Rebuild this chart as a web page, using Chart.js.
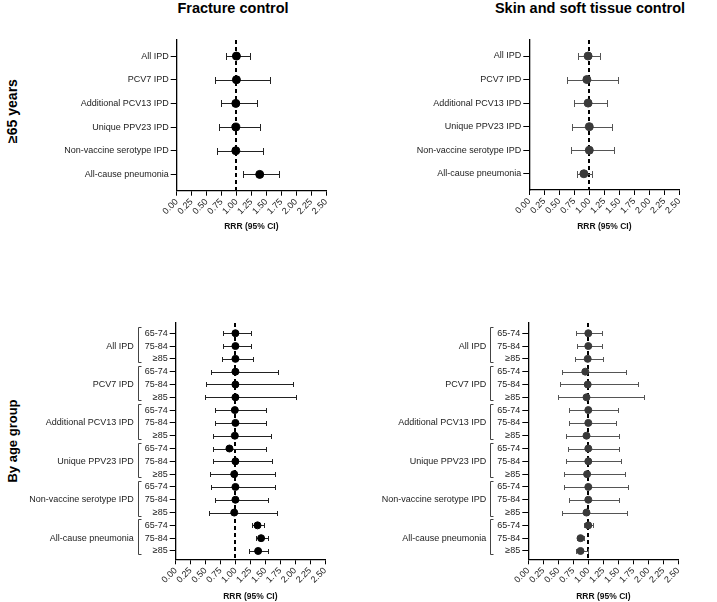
<!DOCTYPE html>
<html>
<head>
<meta charset="utf-8">
<script src="https://cdn.jsdelivr.net/npm/chart.js@4.4.1/dist/chart.umd.min.js"></script>
<style>
  body { margin:0; background:#fff; width:717px; height:602px; position:relative; overflow:hidden; font-family:'Liberation Sans', Arial, sans-serif; }
  canvas { position:absolute; }
  .ttl { position:absolute; top:0; font-weight:bold; font-size:14.5px; white-space:nowrap; transform:translateX(-50%); color:#000; }
  .side { position:absolute; font-weight:bold; font-size:13px; white-space:nowrap; transform:translate(-50%,-50%) rotate(-90deg); color:#000; }
</style>
</head>
<body>
<div class="ttl" style="left:233px">Fracture control</div>
<div class="ttl" style="left:590px">Skin and soft tissue control</div>
<div class="side" style="left:12px;top:111px;font-size:14px">≥65 years</div>
<div class="side" style="left:12px;top:441px">By age group</div>

<canvas id="tl" width="358" height="240" style="left:0;top:0"></canvas>
<canvas id="tr" width="359" height="240" style="left:358px;top:0"></canvas>
<canvas id="bl" width="358" height="362" style="left:0;top:240px"></canvas>
<canvas id="br" width="359" height="362" style="left:358px;top:240px"></canvas>

<script>
// categories
const outcomes = ['All IPD', 'PCV7 IPD', 'Additional PCV13 IPD', 'Unique PPV23 IPD', 'Non-vaccine serotype IPD', 'All-cause pneumonia']
const ageGroups = ['65-74', '75-84', '≥85']
const xTicks = [0, 0.25, 0.5, 0.75, 1, 1.25, 1.5, 1.75, 2, 2.25, 2.5]

// >=65 years, fracture control
const fracRRR = [1.00, 1.00, 0.99, 0.99, 0.99, 1.39]
const fracLo  = [0.82, 0.64, 0.74, 0.70, 0.68, 1.11]
const fracHi  = [1.22, 1.57, 1.35, 1.40, 1.44, 1.72]

// >=65 years, skin and soft tissue control
const skinRRR = [0.98, 0.96, 0.98, 1.00, 1.00, 0.91]
const skinLo  = [0.81, 0.63, 0.74, 0.71, 0.69, 0.79]
const skinHi  = [1.18, 1.47, 1.30, 1.37, 1.41, 1.05]

// by age group (3 rows per outcome), fracture control
const fracAgeRRR = [1.00, 1.00, 1.00,  1.00, 1.00, 1.00,  0.99, 1.00, 0.99,  0.90, 1.00, 0.98,  1.00, 1.00, 0.98,  1.37, 1.43, 1.38]
const fracAgeLo  = [0.79, 0.79, 0.77,  0.59, 0.51, 0.49,  0.65, 0.66, 0.62,  0.63, 0.63, 0.58,  0.59, 0.66, 0.55,  1.27, 1.34, 1.23]
const fracAgeHi  = [1.26, 1.26, 1.30,  1.72, 1.97, 2.02,  1.52, 1.52, 1.59,  1.52, 1.61, 1.67,  1.67, 1.54, 1.70,  1.48, 1.54, 1.54]

// by age group, skin and soft tissue control
const skinAgeRRR = [1.00, 1.00, 0.99,  0.95, 0.99, 0.97,  1.00, 1.00, 0.97,  1.00, 1.00, 0.98,  1.00, 1.00, 0.97,  1.00, 0.87, 0.87]
const skinAgeLo  = [0.79, 0.81, 0.77,  0.56, 0.53, 0.49,  0.67, 0.68, 0.62,  0.66, 0.63, 0.60,  0.60, 0.67, 0.56,  0.93, 0.81, 0.79]
const skinAgeHi  = [1.23, 1.22, 1.24,  1.63, 1.82, 1.93,  1.49, 1.46, 1.51,  1.51, 1.54, 1.61,  1.66, 1.51, 1.64,  1.07, 0.93, 0.99]

const ageRowLabels = outcomes.flatMap(() => ageGroups)

Chart.defaults.font.family = "'Liberation Sans', Arial, sans-serif"

// reference line, CI whiskers and group brackets
const forestPlugin = {
  id: 'forest',
  beforeDatasetsDraw(chart) {
    const {ctx, chartArea, scales: {x, y}} = chart
    const o = chart.options.plugins.forest
    ctx.save()
    const x1 = Math.round(x.getPixelForValue(1))
    ctx.strokeStyle = '#000'
    ctx.lineWidth = 2
    ctx.setLineDash([4, 3])
    ctx.beginPath()
    ctx.moveTo(x1, chartArea.top)
    ctx.lineTo(x1, chartArea.bottom)
    ctx.stroke()
    ctx.setLineDash([])
    ctx.strokeStyle = o.barColor
    ctx.lineWidth = 1
    o.lo.forEach((lo, i) => {
      const yy = Math.round(y.getPixelForValue(i)) + 0.5
      const xa = Math.round(x.getPixelForValue(lo)) + 0.5
      const xb = Math.round(x.getPixelForValue(o.hi[i])) + 0.5
      ctx.beginPath()
      ctx.moveTo(xa, yy); ctx.lineTo(xb, yy)
      ctx.moveTo(xa, yy - o.cap); ctx.lineTo(xa, yy + o.cap)
      ctx.moveTo(xb, yy - o.cap); ctx.lineTo(xb, yy + o.cap)
      ctx.stroke()
    })
    ctx.restore()
  },
  afterDraw(chart) {
    const o = chart.options.plugins.forest
    if (!o.groups) return
    const {ctx, chartArea, scales: {y}} = chart
    ctx.save()
    ctx.strokeStyle = '#444'
    ctx.lineWidth = 1
    ctx.fillStyle = '#222'
    ctx.font = "9px 'Liberation Sans', Arial, sans-serif"
    ctx.textAlign = 'right'
    ctx.textBaseline = 'middle'
    const bx = Math.round(chartArea.left - 38) + 0.5
    o.groups.forEach((g, k) => {
      const top = Math.round(y.getPixelForValue(k * 3)) - 6
      const bot = Math.round(y.getPixelForValue(k * 3 + 2)) + 3
      ctx.beginPath()
      ctx.moveTo(bx + 3, top + 0.5); ctx.lineTo(bx, top + 0.5)
      ctx.lineTo(bx, bot + 0.5); ctx.lineTo(bx + 3, bot + 0.5)
      ctx.stroke()
      ctx.fillText(g, chartArea.left - 42, y.getPixelForValue(k * 3 + 1))
    })
    ctx.restore()
  }
}

const forest = (id, labels, rrr, lo, hi, cfg) => {
  new Chart(document.getElementById(id), {
    type: 'scatter',
    data: {
      datasets: [{
        data: rrr.map((v, i) => ({x: v, y: i})),
        backgroundColor: cfg.dot,
        borderColor: cfg.dot,
        pointRadius: cfg.r,
        pointHoverRadius: cfg.r
      }]
    },
    options: {
      responsive: false,
      animation: false,
      devicePixelRatio: 1,
      layout: {padding: cfg.pad},
      plugins: {
        legend: {display: false},
        tooltip: {enabled: false},
        forest: {lo: lo, hi: hi, barColor: cfg.bar, cap: cfg.cap, groups: cfg.groups}
      },
      scales: {
        x: {
          type: 'linear', min: 0, max: 2.5,
          afterBuildTicks: s => { s.ticks = xTicks.map(v => ({value: v})) },
          afterFit: s => { s.height = cfg.xh },
          ticks: {autoSkip: false, minRotation: 45, maxRotation: 45, padding: 1, color: '#222', font: {size: 9},
                  callback: v => v.toFixed(2)},
          grid: {drawOnChartArea: false, drawTicks: true, tickLength: 5, color: '#000'},
          border: {color: '#000', width: 1.3},
          title: {display: true, text: 'RRR (95% CI)', color: '#111', font: {size: 8.5, weight: 'bold'},
                  padding: {top: 0, bottom: cfg.tpb}}
        },
        y: {
          type: 'linear', reverse: true, min: cfg.ymin, max: cfg.ymax,
          afterBuildTicks: s => { s.ticks = labels.map((_, i) => ({value: i})) },
          afterFit: s => { s.width = cfg.yw },
          ticks: {autoSkip: false, padding: 2, color: '#222', font: {size: 9},
                  callback: v => labels[Math.round(v)]},
          grid: {drawOnChartArea: false, drawTicks: true, tickLength: 6, color: '#000'},
          border: {color: '#000', width: 1.3}
        }
      }
    },
    plugins: [forestPlugin]
  })
}

forest('tl', outcomes, fracRRR, fracLo, fracHi,
  {dot: '#000', bar: '#222', r: 4, cap: 3.5, pad: {top: 40, right: 32, bottom: 0, left: 0},
   xh: 49.3, tpb: 8, yw: 176.7, ymin: -0.68, ymax: 5.69})
forest('tr', outcomes, skinRRR, skinLo, skinHi,
  {dot: '#3a3a3a', bar: '#555', r: 4, cap: 3.5, pad: {top: 40, right: 37.7, bottom: 0, left: 0},
   xh: 50, tpb: 8, yw: 171.3, ymin: -0.68, ymax: 5.69})
forest('bl', ageRowLabels, fracAgeRRR, fracAgeLo, fracAgeHi,
  {dot: '#000', bar: '#222', r: 3.5, cap: 2.5, pad: {top: 83, right: 33, bottom: 0, left: 0},
   xh: 42.7, tpb: 0.5, yw: 175.7, ymin: -0.8, ymax: 17.65, groups: outcomes})
forest('br', ageRowLabels, skinAgeRRR, skinAgeLo, skinAgeHi,
  {dot: '#3a3a3a', bar: '#555', r: 3.5, cap: 2.5, pad: {top: 83, right: 38.7, bottom: 0, left: 0},
   xh: 42.7, tpb: 0.5, yw: 170.3, ymin: -0.8, ymax: 17.65, groups: outcomes})
</script>
</body>
</html>
